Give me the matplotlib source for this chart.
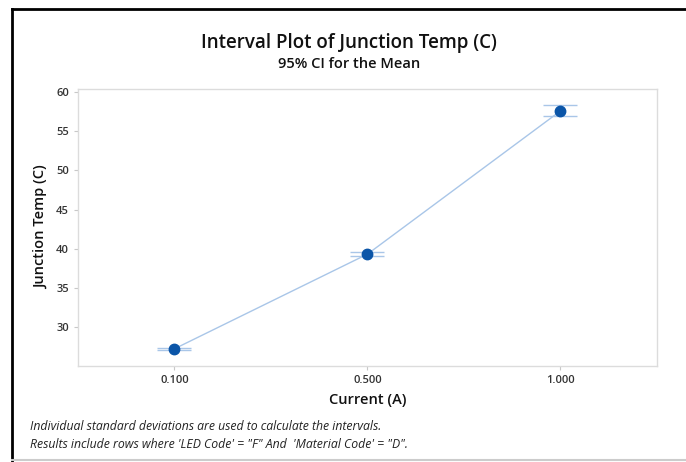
import matplotlib.pyplot as plt
from matplotlib.lines import Line2D

# datos
categorias = ["0.100", "0.500", "1.000"]
medias = [27.2, 39.3, 57.6]
ic_bajo = [27.05, 39.0, 56.95]
ic_alto = [27.35, 39.6, 58.3]

W, H = 686, 462
fig = plt.figure(figsize=(W / 100, H / 100), dpi=100)
plt.rcParams['font.family'] = ['Open Sans', 'DejaVu Sans']

# ejes en pixeles: izq 78, der 657, arriba 89, abajo 366
ax = fig.add_axes([78 / W, 1 - 366 / H, (657 - 78) / W, (366 - 89) / H])

x = list(range(len(categorias)))
azul_claro = '#a9c6e8'
ax.plot(x, medias, color=azul_claro, lw=1, zorder=2)
err = [[m - lo for m, lo in zip(medias, ic_bajo)], [hi - m for m, hi in zip(medias, ic_alto)]]
ax.errorbar(x, medias, yerr=err, fmt='none', ecolor=azul_claro, elinewidth=1,
            capsize=12, capthick=1, zorder=3)
ax.plot(x, medias, 'o', color='#0b55a8', markersize=7.5, zorder=4)

ax.set_xlim(-0.5, 2.5)
ax.set_ylim(25, 60.4)
ax.set_xticks(x)
ax.set_xticklabels(categorias)
ax.set_yticks([30, 35, 40, 45, 50, 55, 60])

for s in ax.spines.values():
    s.set_color('#dcdcdc')
    s.set_linewidth(1)
ax.tick_params(colors='#c8c8c8', labelcolor='#333333', labelsize=8, length=3, width=0.8)
for t in ax.get_xticklabels() + ax.get_yticklabels():
    t.set_fontweight('semibold')

ax.set_xlabel('Current (A)', fontsize=10.5, color='#111111', labelpad=5, fontweight='semibold')
ax.set_ylabel('Junction Temp (C)', fontsize=10.5, color='#111111', labelpad=6, fontweight='semibold')

fig.text(349 / W, 1 - 43 / H, 'Interval Plot of Junction Temp (C)', ha='center', va='center',
         fontsize=13.5, color='#111111', fontweight='semibold')
fig.text(349 / W, 1 - 64 / H, '95% CI for the Mean', ha='center', va='center',
         fontsize=10.5, color='#111111', fontweight='semibold')

fig.text(30 / W, 1 - 427 / H, 'Individual standard deviations are used to calculate the intervals.',
         ha='left', va='center', fontsize=8.8, style='italic', color='#222222')
fig.text(30 / W, 1 - 445 / H,
         "Results include rows where 'LED Code' = \"F\" And  'Material Code' = \"D\".",
         ha='left', va='center', fontsize=8.8, style='italic', color='#222222')

# marco de la captura
fig.add_artist(Line2D([12 / W, 1], [1 - 9 / H, 1 - 9 / H], color='black', lw=2))
fig.add_artist(Line2D([12 / W, 12 / W], [1 - 9 / H, 0], color='black', lw=2))
fig.add_artist(Line2D([12 / W, 1], [1 - 460 / H, 1 - 460 / H], color='#cccccc', lw=1.5))

fig.savefig('out.png', dpi=100)
